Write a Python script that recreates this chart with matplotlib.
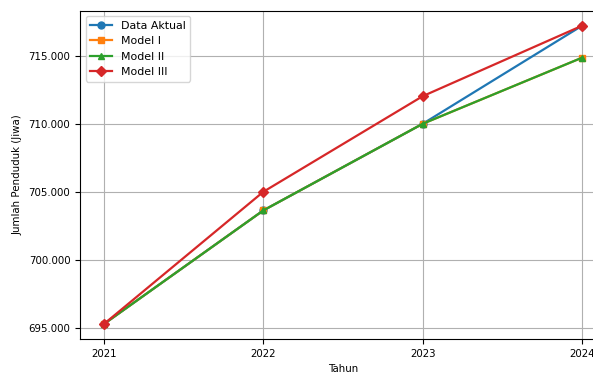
import matplotlib
matplotlib.use("Agg")
from matplotlib import pyplot as plt
from matplotlib.ticker import FuncFormatter

# Data penduduk per tahun
tahun = [2021, 2022, 2023, 2024]
data_aktual = [695280, 703630, 710000, 717210]
model_1 = [695280, 703630, 710000, 714860]
model_2 = [695280, 703630, 710000, 714860]
model_3 = [695280, 705000, 712030, 717210]

fs = 7.4
fig, ax = plt.subplots(figsize=(5.93, 3.72), dpi=100)
# sumbu kanan sengaja di luar gambar (gambar asli terpotong)
fig.subplots_adjust(left=0.135, right=1.022, top=0.971, bottom=0.089)

ax.plot(tahun, data_aktual, color='#1f77b4', marker='o', lw=1.6, ms=5, label='Data Aktual')
ax.plot(tahun, model_1, color='#ff7f0e', marker='s', lw=1.6, ms=5, label='Model I')
ax.plot(tahun, model_2, color='#2ca02c', marker='^', lw=1.6, ms=5, label='Model II')
ax.plot(tahun, model_3, color='#d62728', marker='D', lw=1.6, ms=5, label='Model III')

ax.set_xticks(tahun)
ax.yaxis.set_major_formatter(FuncFormatter(lambda v, p: f'{v:,.0f}'.replace(',', '.')))
ax.tick_params(labelsize=fs)
ax.set_xlabel('Tahun', fontsize=fs)
ax.set_ylabel('Jumlah Penduduk (Jiwa)', fontsize=fs)
ax.grid(True, color='#b0b0b0', lw=0.8)
ax.legend(loc='upper left', fontsize=7.9)

fig.savefig('out.png', dpi=100)
